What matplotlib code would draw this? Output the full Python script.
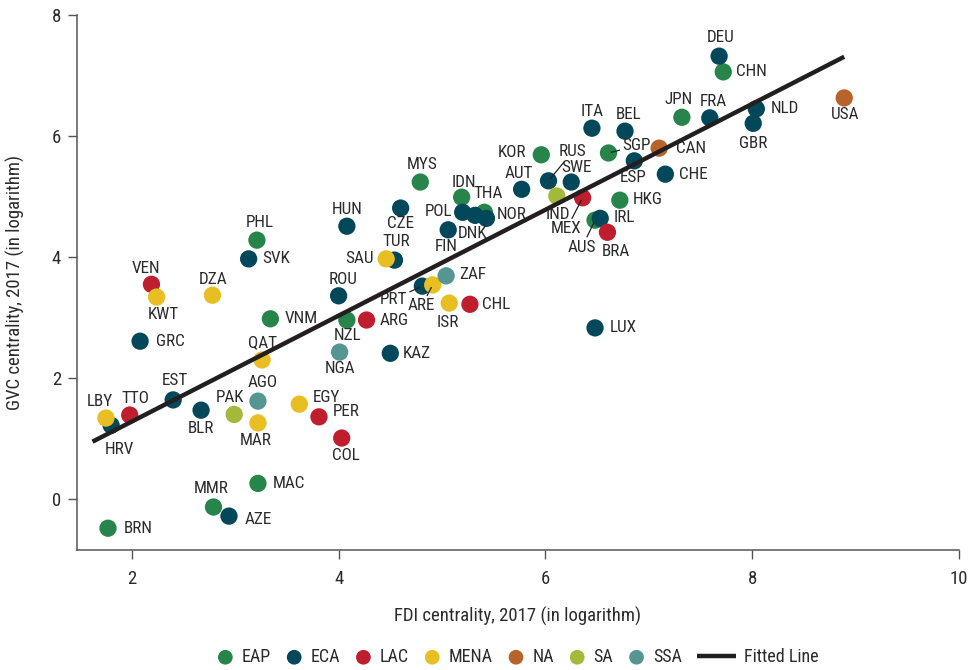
import matplotlib
matplotlib.use('Agg')
import matplotlib.pyplot as plt
from matplotlib.legend_handler import HandlerLine2D

plt.rcParams['font.family'] = ['Roboto Condensed', 'Lato', 'DejaVu Sans']

TEXT = '#2b2b2b'

# FDI centrality (x) and GVC centrality (y), 2017, by region
eap_codes = ['BRN', 'MMR', 'MAC', 'VNM', 'PHL', 'NZL', 'MYS', 'IDN', 'THA', 'KOR',
             'SGP', 'AUS', 'HKG', 'JPN', 'CHN']
eap_x = [1.77, 2.79, 3.22, 3.34, 3.21, 4.08, 4.79, 5.19, 5.41, 5.96,
         6.61, 6.48, 6.72, 7.32, 7.72]
eap_y = [-0.48, -0.13, 0.26, 2.98, 4.28, 2.96, 5.24, 4.99, 4.74, 5.69,
         5.72, 4.61, 4.94, 6.31, 7.06]

eca_codes = ['HRV', 'EST', 'BLR', 'AZE', 'KAZ', 'GRC', 'SVK', 'HUN', 'ROU', 'TUR',
             'CZE', 'POL', 'DNK', 'NOR', 'FIN', 'PRT', 'LUX', 'AUT', 'RUS', 'SWE',
             'IRL', 'ESP', 'CHE', 'ITA', 'BEL', 'FRA', 'DEU', 'NLD', 'GBR']
eca_x = [1.80, 2.40, 2.67, 2.94, 4.50, 2.08, 3.13, 4.08, 4.00, 4.54,
         4.60, 5.20, 5.32, 5.43, 5.06, 4.81, 6.48, 5.77, 6.03, 6.25,
         6.53, 6.86, 7.16, 6.45, 6.77, 7.59, 7.68, 8.04, 8.01]
eca_y = [1.22, 1.64, 1.47, -0.28, 2.41, 2.61, 3.97, 4.51, 3.36, 3.95,
         4.81, 4.74, 4.69, 4.64, 4.45, 3.52, 2.83, 5.12, 5.26, 5.24,
         4.64, 5.59, 5.37, 6.13, 6.08, 6.30, 7.32, 6.45, 6.21]

lac_codes = ['TTO', 'PER', 'COL', 'ARG', 'VEN', 'CHL', 'MEX', 'BRA']
lac_x = [1.98, 3.81, 4.03, 4.27, 2.19, 5.27, 6.36, 6.60]
lac_y = [1.39, 1.36, 1.01, 2.96, 3.55, 3.22, 4.98, 4.41]

mena_codes = ['LBY', 'MAR', 'EGY', 'QAT', 'KWT', 'DZA', 'SAU', 'ARE', 'ISR']
mena_x = [1.75, 3.22, 3.62, 3.26, 2.24, 2.78, 4.46, 4.91, 5.07]
mena_y = [1.34, 1.26, 1.57, 2.30, 3.34, 3.37, 3.97, 3.54, 3.24]

na_codes = ['CAN', 'USA']
na_x = [7.10, 8.89]
na_y = [5.80, 6.63]

sa_codes = ['PAK', 'IND']
sa_x = [2.99, 6.11]
sa_y = [1.40, 5.01]

ssa_codes = ['AGO', 'NGA', 'ZAF']
ssa_x = [3.22, 4.01, 5.04]
ssa_y = [1.62, 2.43, 3.69]

fit_x = [1.62, 8.89]
fit_y = [0.95, 7.31]

groups = [
    ('EAP', eap_codes, eap_x, eap_y, '#27844b'),
    ('ECA', eca_codes, eca_x, eca_y, '#03475a'),
    ('LAC', lac_codes, lac_x, lac_y, '#bf1e2e'),
    ('MENA', mena_codes, mena_x, mena_y, '#e8be22'),
    ('NA', na_codes, na_x, na_y, '#b8632a'),
    ('SA', sa_codes, sa_x, sa_y, '#a2b93a'),
    ('SSA', ssa_codes, ssa_x, ssa_y, '#559692'),
]

# label placement: offset in pixels (dx, dy), horizontal alignment
label_pos = {
    'BRN': (16, 0, 'left'), 'MMR': (-2, 19, 'center'), 'AZE': (16, -3, 'left'),
    'MAC': (15, 0, 'left'), 'LBY': (-6, 17, 'center'), 'HRV': (8, -24, 'center'),
    'TTO': (6, 17, 'center'), 'EST': (2, 19, 'center'), 'BLR': (0, -18, 'center'),
    'PAK': (-4, 17, 'center'), 'AGO': (5, 19, 'center'), 'MAR': (-2, -18, 'center'),
    'EGY': (13, 7, 'left'), 'PER': (14, 5, 'left'), 'COL': (4, -17, 'center'),
    'QAT': (0, 17, 'center'), 'NGA': (0, -16, 'center'), 'KAZ': (12, 0, 'left'),
    'NZL': (1, -15, 'center'), 'ARG': (13, 0, 'left'), 'VNM': (14, 0, 'left'),
    'GRC': (16, 0, 'left'), 'VEN': (-5, 16, 'center'), 'KWT': (7, -17, 'center'),
    'DZA': (1, 16, 'center'), 'PHL': (3, 18, 'center'), 'SVK': (14, 0, 'left'),
    'HUN': (0, 17, 'center'), 'SAU': (-12, 0, 'right'), 'TUR': (2, 19, 'center'),
    'ROU': (4, 16, 'center'), 'CZE': (0, -15, 'center'), 'MYS': (2, 18, 'center'),
    'IDN': (2, 15, 'center'), 'THA': (4, 19, 'center'), 'POL': (-10, 1, 'right'),
    'NOR': (10, 4, 'left'), 'DNK': (-3, -18, 'center'), 'FIN': (-2, -17, 'center'),
    'ZAF': (13, 1, 'left'), 'ISR': (-1, -19, 'center'), 'CHL': (12, 0, 'left'),
    'LUX': (15, 0, 'left'), 'AUT': (-3, 16, 'center'), 'KOR': (-15, 2, 'right'),
    'SWE': (5, 15, 'center'), 'IND': (1, -19, 'center'), 'IRL': (13, 1, 'left'),
    'BRA': (8, -19, 'center'), 'HKG': (13, 1, 'left'), 'ESP': (-1, -17, 'center'),
    'CHE': (14, 0, 'left'), 'ITA': (0, 17, 'center'), 'BEL': (4, 17, 'center'),
    'CAN': (17, 0, 'left'), 'JPN': (-3, 18, 'center'), 'FRA': (4, 16, 'center'),
    'DEU': (2, 19, 'center'), 'CHN': (13, 0, 'left'), 'NLD': (14, 0, 'left'),
    'GBR': (0, -20, 'center'), 'USA': (1, -17, 'center'),
}
# labels joined to their dot by a short leader line
leader_pos = {
    'PRT': (-29, -13), 'ARE': (-11, -21), 'RUS': (24, 29),
    'MEX': (-16, -31), 'AUS': (-13, -27), 'SGP': (28, 7),
}


class WideLine(HandlerLine2D):
    def legend_artist(self, legend, orig_handle, fontsize, handlebox):
        handlebox.width *= 2.4
        return super().legend_artist(legend, orig_handle, fontsize, handlebox)


fig = plt.figure(figsize=(9.68, 6.70), dpi=100)
ax = fig.add_axes([77 / 968, 120 / 670, 882 / 968, 535 / 670])

for i, (name, codes, xs, ys, color) in enumerate(groups):
    ax.scatter(xs, ys, s=155, color=color, edgecolors='none', label=name, zorder=2 + i)
    for code, x, y in zip(codes, xs, ys):
        if code in leader_pos:
            dx, dy = leader_pos[code]
            ax.annotate(code, (x, y), xytext=(dx, dy), textcoords='offset pixels',
                        ha='center', va='center', fontsize=12.3, color=TEXT, zorder=12,
                        arrowprops=dict(arrowstyle='-', color='#222222', lw=0.9,
                                        shrinkA=0, shrinkB=2))
        else:
            dx, dy, ha = label_pos[code]
            ax.annotate(code, (x, y), xytext=(dx, dy), textcoords='offset pixels',
                        ha=ha, va='center', fontsize=12.3, color=TEXT, zorder=12)

fit_line, = ax.plot(fit_x, fit_y, color='#231f20', lw=3.2, solid_capstyle='butt',
                    label='Fitted Line', zorder=15)

ax.set_xlim(1.47, 10)
ax.set_ylim(-0.84, 8)
ax.set_xticks([2, 4, 6, 8, 10])
ax.set_yticks([0, 2, 4, 6, 8])
for side in ['top', 'right']:
    ax.spines[side].set_visible(False)
for side in ['left', 'bottom']:
    ax.spines[side].set_color('#555555')
    ax.spines[side].set_linewidth(1.1)
ax.tick_params(axis='both', direction='out', length=6.5, width=1.0, color='#555555',
               labelsize=13.5, labelcolor=TEXT)
ax.tick_params(axis='x', pad=8)
ax.tick_params(axis='y', pad=5)

ax.set_xlabel('FDI centrality, 2017 (in logarithm)', fontsize=13.5, color=TEXT, va='center')
ax.set_ylabel('GVC centrality, 2017 (in logarithm)', fontsize=13.5, color=TEXT, va='center')
ax.xaxis.set_label_coords(0.5, -0.125)
ax.yaxis.set_label_coords(-0.070, 0.5)

handles, labels = ax.get_legend_handles_labels()
fig.legend(handles, labels, loc='center', bbox_to_anchor=(518 / 968, 13 / 670), ncol=8,
           frameon=False, fontsize=13, handlelength=0.9, handletextpad=0.45,
           columnspacing=0.85, markerscale=0.85, labelcolor=TEXT,
           handler_map={fit_line: WideLine()})

fig.savefig('out.png', dpi=100)
